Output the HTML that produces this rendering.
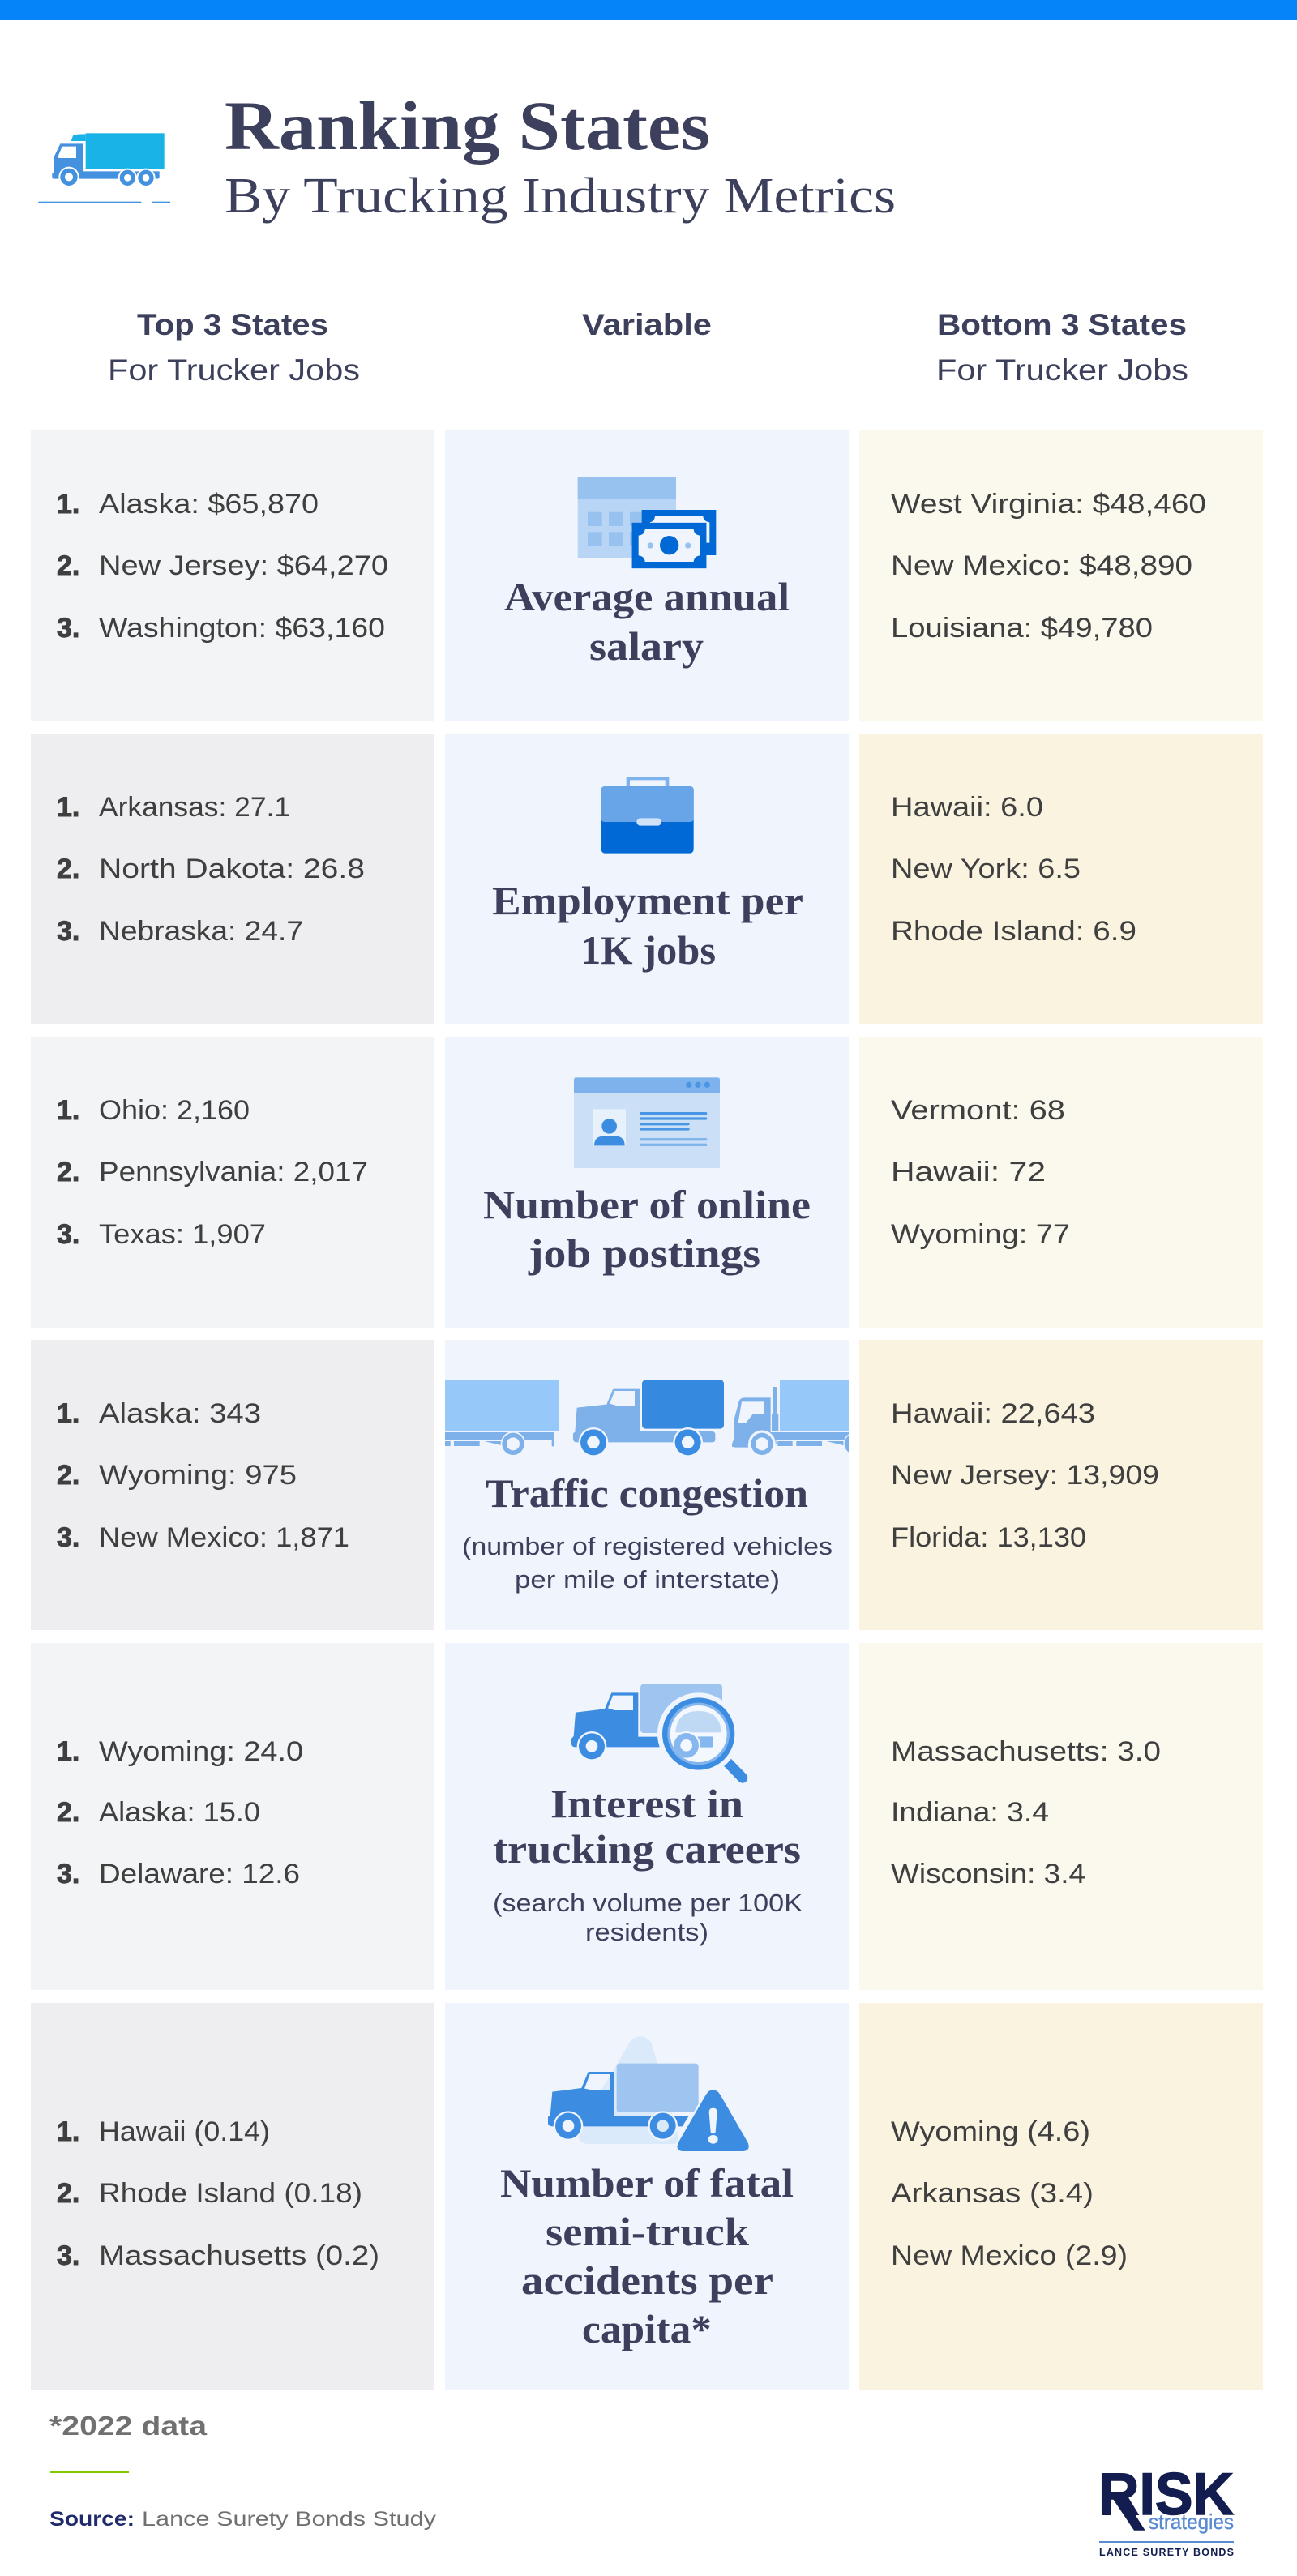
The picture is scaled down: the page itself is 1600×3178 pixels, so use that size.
<!DOCTYPE html>
<html lang="en">
<head>
<meta charset="utf-8">
<title>Ranking States By Trucking Industry Metrics</title>
<style>
html,body{margin:0;padding:0;background:#fff;width:1600px;height:3178px;overflow:hidden}
svg{display:block}
text{white-space:pre}
.sans{font-family:"Liberation Sans",sans-serif}
.serif{font-family:"Liberation Serif",serif}
.n{font-family:"Liberation Sans",sans-serif;font-size:34px;font-weight:700;fill:#3f3f3f;stroke:#3f3f3f;stroke-width:.9px}
.v{font-family:"Liberation Sans",sans-serif;font-size:34px;fill:#3f3f3f}
.h{font-family:"Liberation Serif",serif;font-size:50px;font-weight:700;fill:#3c405c}
.s{font-family:"Liberation Sans",sans-serif;font-size:31px;fill:#3c405c}
.hb{font-family:"Liberation Sans",sans-serif;font-size:37px;font-weight:700;fill:#3c405c}
.hn{font-family:"Liberation Sans",sans-serif;font-size:37px;fill:#3c405c}
</style>
</head>
<body>
<svg xmlns="http://www.w3.org/2000/svg" width="1600" height="3178" viewBox="0 0 1600 3178">
<defs><clipPath id="traffic-clip"><rect x="27" y="100" width="1494" height="500"/></clipPath><clipPath id="lens-clip"><circle cx="965" cy="327" r="105"/></clipPath></defs>
<rect x="0" y="0" width="1600" height="25" fill="#0584f9"/>

<!-- header -->
<g transform="translate(40,150) scale(.33333)">
<rect x="197" y="43" width="291" height="134" fill="#19b3e8"/>
<path d="M143,72 L150,52 Q155,46 197,46 V72Z" fill="#19b3e8"/>
<path d="M80,130 L103,82 H188 V184 H470 V205 Q470,212 460,212 H80 Q73,212 73,205 V190 H80Z" fill="#4491e0"/>
<path d="M93,133 L110,92 H162 V135 H100Z" fill="#fff"/>
<circle cx="135" cy="205" r="38" fill="#fff"/><circle cx="135" cy="205" r="32" fill="#4491e0"/><circle cx="135" cy="205" r="15" fill="#fff"/>
<circle cx="352" cy="208" r="35" fill="#fff"/><circle cx="352" cy="208" r="29" fill="#4491e0"/><circle cx="352" cy="208" r="13" fill="#fff"/>
<circle cx="420" cy="208" r="35" fill="#fff"/><circle cx="420" cy="208" r="29" fill="#4491e0"/><circle cx="420" cy="208" r="13" fill="#fff"/>
<rect x="22" y="296" width="381" height="6" fill="#4491e0"/><rect x="444" y="296" width="66" height="6" fill="#4491e0"/>
</g>
<text class="serif" x="277" y="184" font-size="86" font-weight="700" fill="#3c405c" textLength="599" lengthAdjust="spacingAndGlyphs">Ranking States</text>
<text class="serif" x="277" y="262" font-size="62" fill="#3c405c" textLength="828" lengthAdjust="spacingAndGlyphs">By Trucking Industry Metrics</text>

<text class="hb" x="169" y="413" textLength="236" lengthAdjust="spacingAndGlyphs">Top 3 States</text>
<text class="hn" x="133" y="469" textLength="311" lengthAdjust="spacingAndGlyphs">For Trucker Jobs</text>
<text class="hb" x="718" y="413" textLength="160" lengthAdjust="spacingAndGlyphs">Variable</text>
<text class="hb" x="1156" y="413" textLength="308" lengthAdjust="spacingAndGlyphs">Bottom 3 States</text>
<text class="hn" x="1155" y="469" textLength="311" lengthAdjust="spacingAndGlyphs">For Trucker Jobs</text>

<!-- row 1 -->
<g>
<rect x="38" y="531" width="498" height="358" fill="#f3f4f6"/>
<rect x="549" y="531" width="498" height="358" fill="#f0f5fd"/>
<rect x="1060" y="531" width="498" height="358" fill="#fbf8ee"/>
<text class="n" x="70" y="633">1.</text><text class="v" x="122" y="633" textLength="271" lengthAdjust="spacingAndGlyphs">Alaska: $65,870</text>
<text class="n" x="70" y="709">2.</text><text class="v" x="122" y="709" textLength="357" lengthAdjust="spacingAndGlyphs">New Jersey: $64,270</text>
<text class="n" x="70" y="786">3.</text><text class="v" x="122" y="786" textLength="353" lengthAdjust="spacingAndGlyphs">Washington: $63,160</text>
<g transform="translate(690,575) scale(.33333)">
<rect x="68" y="42" width="364" height="300" fill="#b9d5f5"/><rect x="68" y="42" width="364" height="78" fill="#97c2f0"/>
<rect x="105" y="170" width="53" height="52" fill="#97c2f0"/><rect x="183" y="170" width="53" height="52" fill="#97c2f0"/><rect x="261" y="170" width="53" height="52" fill="#97c2f0"/>
<rect x="105" y="244" width="53" height="52" fill="#97c2f0"/><rect x="183" y="244" width="53" height="52" fill="#97c2f0"/><rect x="261" y="244" width="53" height="52" fill="#97c2f0"/>
<rect x="305" y="162" width="275" height="168" fill="#0069d6"/>
<path d="M335,208 Q352,205 354,186 H532 Q534,205 556,208 V284 H335Z" fill="#f0f5fd"/>
<rect x="269" y="210" width="275" height="168" fill="#0069d6" stroke="#0069d6"/>
<path d="M293,257 Q315,255 317,234 H497 Q499,255 521,257 V331 Q499,333 497,354 H317 Q315,333 293,331Z" fill="#f0f5fd"/>
<circle cx="407" cy="293" r="35" fill="#0069d6"/><circle cx="337" cy="294" r="11" fill="#97c2f0"/><circle cx="476" cy="294" r="11" fill="#97c2f0"/>
</g>
<text class="h" x="622" y="753" textLength="352" lengthAdjust="spacingAndGlyphs">Average annual</text>
<text class="h" x="727" y="814" textLength="141" lengthAdjust="spacingAndGlyphs">salary</text>
<text class="v" x="1099" y="633" textLength="389" lengthAdjust="spacingAndGlyphs">West Virginia: $48,460</text>
<text class="v" x="1099" y="709" textLength="372" lengthAdjust="spacingAndGlyphs">New Mexico: $48,890</text>
<text class="v" x="1099" y="786" textLength="323" lengthAdjust="spacingAndGlyphs">Louisiana: $49,780</text>
</g>

<!-- row 2 -->
<g>
<rect x="38" y="905" width="498" height="358" fill="#eeeef0"/>
<rect x="549" y="905" width="498" height="358" fill="#f0f5fd"/>
<rect x="1060" y="905" width="498" height="358" fill="#f9f3e0"/>
<text class="n" x="70" y="1007">1.</text><text class="v" x="122" y="1007" textLength="236" lengthAdjust="spacingAndGlyphs">Arkansas: 27.1</text>
<text class="n" x="70" y="1083">2.</text><text class="v" x="122" y="1083" textLength="328" lengthAdjust="spacingAndGlyphs">North Dakota: 26.8</text>
<text class="n" x="70" y="1160">3.</text><text class="v" x="122" y="1160" textLength="252" lengthAdjust="spacingAndGlyphs">Nebraska: 24.7</text>
<g transform="translate(720,945) scale(.33333)">
<rect x="158" y="40" width="158" height="45" fill="#7eb2ec"/><rect x="171" y="52" width="131" height="30" fill="#f0f5fd"/>
<rect x="65" y="75" width="342" height="248" rx="14" fill="#0069d6"/>
<path d="M65,89 Q65,75 79,75 H393 Q407,75 407,89 V193 Q407,207 393,207 H79 Q65,207 65,193Z" fill="#67a5e8"/>
<rect x="196" y="193" width="92" height="28" rx="14" fill="#cfe2f8"/>
</g>
<text class="h" x="607" y="1128" textLength="384" lengthAdjust="spacingAndGlyphs">Employment per</text>
<text class="h" x="716" y="1189" textLength="167" lengthAdjust="spacingAndGlyphs">1K jobs</text>
<text class="v" x="1099" y="1007" textLength="188" lengthAdjust="spacingAndGlyphs">Hawaii: 6.0</text>
<text class="v" x="1099" y="1083" textLength="234" lengthAdjust="spacingAndGlyphs">New York: 6.5</text>
<text class="v" x="1099" y="1160" textLength="303" lengthAdjust="spacingAndGlyphs">Rhode Island: 6.9</text>
</g>

<!-- row 3 -->
<g>
<rect x="38" y="1279" width="498" height="359" fill="#f3f4f6"/>
<rect x="549" y="1279" width="498" height="359" fill="#f0f5fd"/>
<rect x="1060" y="1279" width="498" height="359" fill="#fbf8ee"/>
<text class="n" x="70" y="1381">1.</text><text class="v" x="122" y="1381" textLength="186" lengthAdjust="spacingAndGlyphs">Ohio: 2,160</text>
<text class="n" x="70" y="1457">2.</text><text class="v" x="122" y="1457" textLength="332" lengthAdjust="spacingAndGlyphs">Pennsylvania: 2,017</text>
<text class="n" x="70" y="1534">3.</text><text class="v" x="122" y="1534" textLength="206" lengthAdjust="spacingAndGlyphs">Texas: 1,907</text>
<g transform="translate(540,1270) scale(.33333)">
<rect x="504" y="178" width="540" height="335" fill="#cbe0f7"/>
<path d="M504,188 Q504,178 514,178 H1034 Q1044,178 1044,188 V237 H504Z" fill="#7eb2ec"/>
<circle cx="929" cy="205" r="11" fill="#4a96e6"/><circle cx="963" cy="205" r="11" fill="#4a96e6"/><circle cx="997" cy="205" r="11" fill="#4a96e6"/>
<rect x="573" y="295" width="123" height="135" fill="#e6f1fb"/>
<circle cx="635" cy="358" r="28" fill="#3c8de2"/><path d="M579,430 Q579,395 615,395 H656 Q692,395 692,430Z" fill="#3c8de2"/>
<rect x="747" y="306" width="250" height="10" rx="5" fill="#4a96e6"/><rect x="747" y="325" width="250" height="10" rx="5" fill="#4a96e6"/>
<rect x="747" y="345" width="185" height="10" rx="5" fill="#4a96e6"/><rect x="747" y="364" width="185" height="10" rx="5" fill="#4a96e6"/>
<rect x="747" y="402" width="250" height="10" rx="5" fill="#82b5ee"/><rect x="747" y="422" width="250" height="10" rx="5" fill="#82b5ee"/>
</g>
<text class="h" x="596" y="1503" textLength="404" lengthAdjust="spacingAndGlyphs">Number of online</text>
<text class="h" x="652" y="1563" textLength="286" lengthAdjust="spacingAndGlyphs">job postings</text>
<text class="v" x="1099" y="1381" textLength="215" lengthAdjust="spacingAndGlyphs">Vermont: 68</text>
<text class="v" x="1099" y="1457" textLength="191" lengthAdjust="spacingAndGlyphs">Hawaii: 72</text>
<text class="v" x="1099" y="1534" textLength="221" lengthAdjust="spacingAndGlyphs">Wyoming: 77</text>
</g>

<!-- row 4 -->
<g>
<rect x="38" y="1653" width="498" height="358" fill="#eeeef0"/>
<rect x="549" y="1653" width="498" height="358" fill="#f0f5fd"/>
<rect x="1060" y="1653" width="498" height="358" fill="#f9f3e0"/>
<text class="n" x="70" y="1755">1.</text><text class="v" x="122" y="1755" textLength="200" lengthAdjust="spacingAndGlyphs">Alaska: 343</text>
<text class="n" x="70" y="1831">2.</text><text class="v" x="122" y="1831" textLength="244" lengthAdjust="spacingAndGlyphs">Wyoming: 975</text>
<text class="n" x="70" y="1908">3.</text><text class="v" x="122" y="1908" textLength="309" lengthAdjust="spacingAndGlyphs">New Mexico: 1,871</text>
<g transform="translate(540,1640) scale(.33333)">
<g clip-path="url(#traffic-clip)">
<rect x="27" y="187" width="423" height="190" rx="4" fill="#97c8fa"/>
<rect x="27" y="381" width="405" height="30" fill="#7eb0ea"/><rect x="422" y="381" width="10" height="52" fill="#7eb0ea"/>
<rect x="27" y="414" width="20" height="18" fill="#7eb0ea"/><rect x="60" y="414" width="95" height="18" fill="#7eb0ea"/><path d="M172,414 L240,430 V414Z" fill="#7eb0ea"/>
<circle cx="279" cy="424" r="46" fill="#f0f5fd"/><circle cx="279" cy="424" r="41" fill="#7eb0ea"/><circle cx="279" cy="424" r="24" fill="#f0f5fd"/>
<rect x="756" y="187" width="303" height="181" rx="14" fill="#3589de"/>
<path d="M515,290 L625,278 L650,218 H748 V378 H1015 Q1027,378 1027,390 V408 Q1027,418 1015,418 H515 Q501,418 501,405 V385 L508,380Z" fill="#7eb0ea"/>
<path d="M636,275 L655,228 H729 V283 H665Z" fill="#f0f5fd"/>
<circle cx="576" cy="418" r="55" fill="#f0f5fd"/><circle cx="576" cy="418" r="48" fill="#3a8de2"/><circle cx="576" cy="418" r="23" fill="#f0f5fd"/>
<circle cx="926" cy="418" r="55" fill="#f0f5fd"/><circle cx="926" cy="418" r="48" fill="#3a8de2"/><circle cx="926" cy="418" r="23" fill="#f0f5fd"/>
<rect x="1266" y="187" width="255" height="190" rx="4" fill="#97c8fa"/>
<path d="M1097,435 H1090 Q1086,425 1095,410 V340 L1115,265 Q1120,253 1135,253 H1232 V381 H1521 V410 H1250 V437 H1097Z" fill="#7eb0ea"/>
<path d="M1112,345 L1125,268 H1207 V315 H1165 L1140,347Z" fill="#f0f5fd"/>
<rect x="1242" y="213" width="13" height="110" fill="#7eb0ea"/><rect x="1236" y="315" width="25" height="62" fill="#7eb0ea"/>
<rect x="1258" y="414" width="55" height="18" fill="#7eb0ea"/><rect x="1327" y="414" width="95" height="18" fill="#7eb0ea"/><path d="M1438,414 L1505,430 V414Z" fill="#7eb0ea"/>
<circle cx="1200" cy="424" r="52" fill="#f0f5fd"/><path d="M1148,424 A52,52 0 0 1 1252,424" fill="none" stroke="#7eb0ea" stroke-width="3"/>
<circle cx="1200" cy="424" r="41" fill="#7eb0ea"/><circle cx="1200" cy="424" r="24" fill="#f0f5fd"/>
<circle cx="1543" cy="424" r="42" fill="#f0f5fd"/><circle cx="1543" cy="424" r="38" fill="#7eb0ea"/>
</g>
</g>
<text class="h" x="599" y="1859" textLength="398" lengthAdjust="spacingAndGlyphs">Traffic congestion</text>
<text class="s" x="570" y="1918" textLength="457" lengthAdjust="spacingAndGlyphs">(number of registered vehicles</text>
<text class="s" x="635" y="1959" textLength="327" lengthAdjust="spacingAndGlyphs">per mile of interstate)</text>
<text class="v" x="1099" y="1755" textLength="252" lengthAdjust="spacingAndGlyphs">Hawaii: 22,643</text>
<text class="v" x="1099" y="1831" textLength="331" lengthAdjust="spacingAndGlyphs">New Jersey: 13,909</text>
<text class="v" x="1099" y="1908" textLength="241" lengthAdjust="spacingAndGlyphs">Florida: 13,130</text>
</g>

<!-- row 5 -->
<g>
<rect x="38" y="2027" width="498" height="428" fill="#f3f4f6"/>
<rect x="549" y="2027" width="498" height="428" fill="#f0f5fd"/>
<rect x="1060" y="2027" width="498" height="428" fill="#fbf8ee"/>
<text class="n" x="70" y="2172">1.</text><text class="v" x="122" y="2172" textLength="252" lengthAdjust="spacingAndGlyphs">Wyoming: 24.0</text>
<text class="n" x="70" y="2247">2.</text><text class="v" x="122" y="2247" textLength="199" lengthAdjust="spacingAndGlyphs">Alaska: 15.0</text>
<text class="n" x="70" y="2323">3.</text><text class="v" x="122" y="2323" textLength="248" lengthAdjust="spacingAndGlyphs">Delaware: 12.6</text>
<g transform="translate(540,2030) scale(.33333)">
<rect x="750" y="143" width="303" height="181" rx="12" fill="#9ec5ef"/>
<path d="M510,248 L618,235 L643,175 H742 V338 H860 V376 H510 Q495,376 495,365 V345 L503,336Z" fill="#3c8de2"/>
<path d="M630,232 L648,185 H723 V240 H655Z" fill="#f0f5fd"/>
<circle cx="570" cy="373" r="55" fill="#f0f5fd"/><circle cx="570" cy="373" r="48" fill="#3c8de2"/><circle cx="570" cy="373" r="22" fill="#f0f5fd"/>
<line x1="1060" y1="420" x2="1128" y2="490" stroke="#3c8de2" stroke-width="38" stroke-linecap="round"/>
<circle cx="965" cy="327" r="152" fill="#f0f5fd"/><circle cx="965" cy="327" r="134" fill="#3c8de2"/><circle cx="965" cy="327" r="115" fill="#82b5ee"/><circle cx="965" cy="327" r="105" fill="#f3f8fe"/>
<g clip-path="url(#lens-clip)">
<path d="M880,322 Q885,243 965,243 Q1045,243 1050,322Z" fill="#bfd9f4"/>
<rect x="960" y="337" width="60" height="40" rx="6" fill="#86b8ef"/>
<circle cx="920" cy="370" r="52" fill="#f3f8fe"/><circle cx="920" cy="370" r="46" fill="#86b8ef"/><circle cx="920" cy="370" r="22" fill="#f3f8fe"/>
</g>
</g>
<text class="h" x="679" y="2242" textLength="238" lengthAdjust="spacingAndGlyphs">Interest in</text>
<text class="h" x="608" y="2298" textLength="380" lengthAdjust="spacingAndGlyphs">trucking careers</text>
<text class="s" x="608" y="2358" textLength="382" lengthAdjust="spacingAndGlyphs">(search volume per 100K</text>
<text class="s" x="722" y="2394" textLength="152" lengthAdjust="spacingAndGlyphs">residents)</text>
<text class="v" x="1099" y="2172" textLength="333" lengthAdjust="spacingAndGlyphs">Massachusetts: 3.0</text>
<text class="v" x="1099" y="2247" textLength="195" lengthAdjust="spacingAndGlyphs">Indiana: 3.4</text>
<text class="v" x="1099" y="2323" textLength="240" lengthAdjust="spacingAndGlyphs">Wisconsin: 3.4</text>
</g>

<!-- row 6 -->
<g>
<rect x="38" y="2471" width="498" height="478" fill="#eeeef0"/>
<rect x="549" y="2471" width="498" height="478" fill="#f0f5fd"/>
<rect x="1060" y="2471" width="498" height="478" fill="#f9f3e0"/>
<text class="n" x="70" y="2641">1.</text><text class="v" x="122" y="2641" textLength="211" lengthAdjust="spacingAndGlyphs">Hawaii (0.14)</text>
<text class="n" x="70" y="2717">2.</text><text class="v" x="122" y="2717" textLength="325" lengthAdjust="spacingAndGlyphs">Rhode Island (0.18)</text>
<text class="n" x="70" y="2794">3.</text><text class="v" x="122" y="2794" textLength="346" lengthAdjust="spacingAndGlyphs">Massachusetts (0.2)</text>
<g transform="translate(540,2460) scale(.33333)">
<path d="M710,178 Q750,135 790,178 L900,555 H560 Q525,555 515,520Z" fill="#dbeafa"/>
<rect x="662" y="257" width="303" height="181" rx="10" fill="#9ec5ef"/>
<path d="M424,362 L532,348 L557,288 H654 V450 H930 L905,490 H430 Q408,490 408,478 V455 L416,450Z" fill="#3c8de2"/>
<path d="M543,350 L563,297 H636 V354 H565Z" fill="#f0f5fd"/>
<path d="M605,354 L636,305 V354Z" fill="#dbeafa"/>
<circle cx="483" cy="488" r="55" fill="#f0f5fd"/><circle cx="483" cy="488" r="48" fill="#3c8de2"/><circle cx="483" cy="488" r="22" fill="#f0f5fd"/>
<circle cx="833" cy="488" r="55" fill="#f0f5fd"/><circle cx="833" cy="488" r="48" fill="#3c8de2"/><circle cx="833" cy="488" r="22" fill="#dbeafa"/>
<path d="M1018,355 Q1035,355 1045,372 L1148,550 Q1160,582 1125,582 H912 Q877,582 890,550 L993,372 Q1003,355 1018,355Z" fill="#3c8de2" stroke="#f0f5fd" stroke-width="14" paint-order="stroke"/>
<path d="M1004,437 Q1004,422 1019,422 Q1034,422 1034,437 L1028,512 Q1019,522 1010,512Z" fill="#f0f5fd"/>
<ellipse cx="1019" cy="538" rx="18" ry="16" fill="#f0f5fd"/>
</g>
<text class="h" x="617" y="2710" textLength="362" lengthAdjust="spacingAndGlyphs">Number of fatal</text>
<text class="h" x="673" y="2770" textLength="251" lengthAdjust="spacingAndGlyphs">semi-truck</text>
<text class="h" x="643" y="2830" textLength="311" lengthAdjust="spacingAndGlyphs">accidents per</text>
<text class="h" x="718" y="2890" textLength="160" lengthAdjust="spacingAndGlyphs">capita*</text>
<text class="v" x="1099" y="2641" textLength="246" lengthAdjust="spacingAndGlyphs">Wyoming (4.6)</text>
<text class="v" x="1099" y="2717" textLength="250" lengthAdjust="spacingAndGlyphs">Arkansas (3.4)</text>
<text class="v" x="1099" y="2794" textLength="292" lengthAdjust="spacingAndGlyphs">New Mexico (2.9)</text>
</g>

<!-- footer -->
<text class="sans" x="61" y="3004" font-size="33" font-weight="700" fill="#707070" textLength="194" lengthAdjust="spacingAndGlyphs">*2022 data</text>
<rect x="62" y="3049" width="97" height="2" fill="#80c800"/>
<text class="sans" x="61" y="3116" font-size="25" font-weight="700" fill="#1f2a6b" textLength="105" lengthAdjust="spacingAndGlyphs">Source:</text>
<text class="sans" x="175" y="3116" font-size="25" fill="#707070" textLength="363" lengthAdjust="spacingAndGlyphs">Lance Surety Bonds Study</text>
<g>
<text class="sans" x="1355" y="3102" font-size="73" font-weight="700" fill="#131d4f" stroke="#131d4f" stroke-width="1.5" textLength="167" lengthAdjust="spacingAndGlyphs">RISK</text>
<path d="M1373,3083 H1388 L1412.7,3121.7 H1399Z" fill="#131d4f"/>
<text class="sans" x="1417" y="3120" font-size="26" fill="#5a8bd0" stroke="#5a8bd0" stroke-width=".4" textLength="105" lengthAdjust="spacingAndGlyphs">strategies</text>
<rect x="1356" y="3135" width="166" height="2" fill="#5a8bd0"/>
<text class="sans" x="1356" y="3153" font-size="12.5" font-weight="700" fill="#131d4f" textLength="166" lengthAdjust="spacing">LANCE SURETY BONDS</text>
</g>
</svg>
</body>
</html>
